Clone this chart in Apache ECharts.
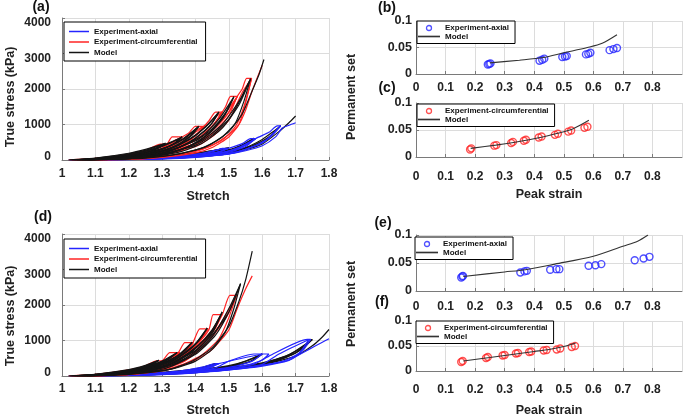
<!DOCTYPE html>
<html><head><meta charset="utf-8">
<script src="https://cdn.jsdelivr.net/npm/echarts@6/dist/echarts.min.js"></script>
<style>html,body{margin:0;padding:0;background:#fff}#c{width:685px;height:418px}</style>
</head><body><div id="c"></div>
<script>
// ---------- axis ranges [min, max, interval] ----------
const stretchRange = [1, 1.8, 0.1];
const stressRange = [0, 4000, 1000];
const strainRange = [0, 0.9, 0.1];
const setRange = [0, 0.1, 0.05];

// ---------- panel (a): stress-stretch loops [stretch, kPa] ----------
const circExpA = [
  [[1.02,0],[1.1,45],[1.2,160],[1.25,270],[1.295,450],[1.315,450],[1.3,330],[1.25,180],[1.2,80],[1.1,15],[1.03,0]],
  [[1.03,0],[1.1,35],[1.2,130],[1.25,230],[1.3,380],[1.315,450],[1.33,650],[1.36,650],[1.345,500],[1.3,280],[1.25,150],[1.2,70],[1.1,12],[1.04,0]],
  [[1.04,0],[1.1,28],[1.2,105],[1.3,300],[1.36,650],[1.38,760],[1.40,950],[1.425,950],[1.41,760],[1.37,480],[1.3,220],[1.25,120],[1.2,55],[1.1,8],[1.05,0]],
  [[1.05,0],[1.2,85],[1.3,240],[1.35,450],[1.4,780],[1.425,950],[1.44,1100],[1.46,1350],[1.48,1350],[1.46,1060],[1.42,700],[1.37,420],[1.3,180],[1.2,45],[1.06,0]],
  [[1.06,0],[1.2,70],[1.3,190],[1.4,560],[1.45,950],[1.48,1350],[1.49,1500],[1.505,1790],[1.525,1790],[1.5,1350],[1.46,920],[1.4,480],[1.3,140],[1.2,35],[1.07,0]],
  [[1.07,0],[1.2,55],[1.3,150],[1.4,430],[1.45,740],[1.5,1250],[1.525,1790],[1.54,2000],[1.553,2300],[1.568,2300],[1.55,1600],[1.53,1000],[1.5,650],[1.45,350],[1.4,200],[1.3,70],[1.2,15],[1.08,0]],
  [[1.08,0],[1.2,35],[1.3,95],[1.4,260],[1.45,420],[1.5,720],[1.53,1000],[1.55,1400],[1.568,1900],[1.58,2200],[1.60,2670]]
];
const circExpA2 = [
  [[1.03,0],[1.1,35],[1.2,130],[1.25,230],[1.3,380],[1.315,450],[1.3,310],[1.25,160],[1.2,70],[1.1,12],[1.035,0]],
  [[1.04,0],[1.1,28],[1.2,110],[1.25,200],[1.3,330],[1.34,560],[1.36,650],[1.34,460],[1.3,250],[1.25,130],[1.2,60],[1.1,10],[1.045,0]],
  [[1.05,0],[1.2,90],[1.3,260],[1.35,500],[1.39,780],[1.425,950],[1.4,700],[1.36,430],[1.3,200],[1.2,45],[1.055,0]],
  [[1.06,0],[1.2,75],[1.3,210],[1.35,390],[1.4,690],[1.45,1130],[1.48,1350],[1.455,1000],[1.41,620],[1.35,330],[1.3,160],[1.2,38],[1.065,0]],
  [[1.07,0],[1.2,60],[1.3,170],[1.4,480],[1.45,830],[1.5,1450],[1.525,1790],[1.495,1280],[1.45,820],[1.4,430],[1.3,125],[1.2,30],[1.075,0]],
  [[1.08,0],[1.2,48],[1.3,130],[1.4,380],[1.45,660],[1.5,1120],[1.54,1900],[1.568,2300],[1.545,1500],[1.52,950],[1.48,560],[1.42,300],[1.35,150],[1.25,40],[1.085,0]]
];
const circModelA = [
  [[1.02,0],[1.1,55],[1.2,190],[1.25,300],[1.31,470],[1.29,340],[1.25,210],[1.2,110],[1.1,25],[1.03,0]],
  [[1.03,0],[1.1,40],[1.2,150],[1.25,250],[1.3,400],[1.33,520],[1.36,650],[1.34,480],[1.3,300],[1.25,170],[1.2,85],[1.1,18],[1.04,0]],
  [[1.04,0],[1.1,30],[1.2,120],[1.3,320],[1.35,530],[1.38,720],[1.41,950],[1.39,700],[1.35,420],[1.3,240],[1.25,130],[1.2,65],[1.1,12],[1.05,0]],
  [[1.05,0],[1.1,25],[1.2,95],[1.3,250],[1.35,420],[1.4,690],[1.44,1030],[1.47,1350],[1.45,1040],[1.4,620],[1.35,350],[1.3,190],[1.2,50],[1.1,10],[1.06,0]],
  [[1.06,0],[1.2,75],[1.3,200],[1.4,540],[1.45,880],[1.49,1330],[1.515,1780],[1.49,1300],[1.45,820],[1.4,470],[1.35,270],[1.3,150],[1.2,40],[1.07,0]],
  [[1.07,0],[1.2,60],[1.3,160],[1.4,420],[1.45,700],[1.5,1150],[1.535,1700],[1.565,2290],[1.545,1650],[1.52,1050],[1.48,650],[1.43,370],[1.35,170],[1.25,50],[1.08,0]],
  [[1.08,0],[1.2,40],[1.3,105],[1.4,280],[1.45,470],[1.5,800],[1.54,1300],[1.57,1950],[1.59,2400],[1.605,2830]]
];
const circModelA2 = [
  [[1.025,0],[1.1,48],[1.2,170],[1.26,300],[1.31,470],[1.28,300],[1.22,150],[1.15,50],[1.035,0]],
  [[1.035,0],[1.1,36],[1.2,140],[1.28,320],[1.32,460],[1.36,650],[1.33,430],[1.28,240],[1.22,110],[1.12,25],[1.045,0]],
  [[1.045,0],[1.15,60],[1.25,190],[1.32,380],[1.37,620],[1.41,950],[1.38,640],[1.33,360],[1.27,170],[1.18,50],[1.055,0]],
  [[1.055,0],[1.15,45],[1.25,160],[1.32,320],[1.38,580],[1.43,930],[1.47,1350],[1.44,930],[1.39,540],[1.33,270],[1.25,110],[1.15,25],[1.065,0]],
  [[1.065,0],[1.15,38],[1.25,130],[1.35,360],[1.42,680],[1.47,1150],[1.515,1780],[1.48,1150],[1.43,680],[1.37,340],[1.3,140],[1.2,35],[1.075,0]],
  [[1.075,0],[1.15,30],[1.25,100],[1.35,290],[1.42,560],[1.48,1000],[1.53,1650],[1.565,2290],[1.53,1550],[1.48,900],[1.42,470],[1.35,220],[1.25,70],[1.085,0]]
];
const axialExpA = [
  [[1.02,0],[1.1,15],[1.2,40],[1.3,80],[1.4,150],[1.45,230],[1.48,330],[1.50,330],[1.47,220],[1.4,110],[1.3,50],[1.2,20],[1.1,5],[1.03,0]],
  [[1.03,0],[1.2,30],[1.3,60],[1.4,120],[1.47,230],[1.50,330],[1.54,460],[1.565,600],[1.58,600],[1.55,420],[1.5,250],[1.4,100],[1.3,40],[1.2,15],[1.05,0]],
  [[1.05,0],[1.2,25],[1.3,50],[1.4,100],[1.5,220],[1.55,380],[1.58,600],[1.62,780],[1.645,960],[1.655,960],[1.63,700],[1.6,480],[1.55,300],[1.5,180],[1.4,80],[1.3,35],[1.2,10],[1.07,0]],
  [[1.07,0],[1.2,20],[1.3,45],[1.4,90],[1.5,170],[1.55,260],[1.6,400],[1.64,650],[1.66,900],[1.68,980],[1.70,1050]]
];
const axialExpA2 = [
  [[1.025,0],[1.15,25],[1.25,55],[1.35,110],[1.42,190],[1.46,280],[1.50,330],[1.46,200],[1.4,105],[1.3,45],[1.15,10],[1.035,0]],
  [[1.035,0],[1.2,25],[1.3,55],[1.4,110],[1.48,210],[1.53,360],[1.58,600],[1.54,380],[1.48,210],[1.4,95],[1.3,38],[1.2,12],[1.045,0]],
  [[1.055,0],[1.2,22],[1.3,45],[1.4,95],[1.5,190],[1.56,330],[1.61,560],[1.655,960],[1.62,620],[1.57,370],[1.5,170],[1.4,75],[1.3,32],[1.065,0]]
];
const axialModelA = [
  [[1.02,0],[1.1,20],[1.2,55],[1.3,110],[1.4,200],[1.45,260],[1.5,340],[1.47,250],[1.4,150],[1.3,70],[1.2,30],[1.1,8],[1.03,0]],
  [[1.03,0],[1.2,40],[1.3,85],[1.4,160],[1.5,290],[1.54,430],[1.575,610],[1.55,450],[1.5,280],[1.4,130],[1.3,60],[1.2,20],[1.05,0]],
  [[1.05,0],[1.2,30],[1.3,65],[1.4,130],[1.5,240],[1.55,350],[1.6,580],[1.63,780],[1.655,960],[1.63,720],[1.6,500],[1.55,300],[1.5,190],[1.4,100],[1.3,45],[1.2,15],[1.07,0]],
  [[1.07,0],[1.2,25],[1.3,55],[1.4,110],[1.5,200],[1.55,290],[1.6,450],[1.65,800],[1.68,1050],[1.70,1240]]
];
const axialModelA2 = [
  [[1.025,0],[1.2,45],[1.3,95],[1.4,180],[1.46,280],[1.5,340],[1.46,220],[1.38,120],[1.28,55],[1.15,15],[1.035,0]],
  [[1.04,0],[1.2,35],[1.3,75],[1.4,145],[1.5,270],[1.55,430],[1.575,610],[1.54,400],[1.48,230],[1.38,110],[1.28,48],[1.15,12],[1.05,0]],
  [[1.06,0],[1.2,28],[1.3,60],[1.4,120],[1.5,220],[1.57,400],[1.62,640],[1.655,960],[1.62,650],[1.57,400],[1.5,180],[1.4,90],[1.3,40],[1.07,0]]
];

// ---------- panel (d) ----------
const circExpD = [
  [[1.02,0],[1.1,45],[1.2,170],[1.25,290],[1.283,430],[1.313,430],[1.29,300],[1.25,170],[1.2,80],[1.1,15],[1.03,0]],
  [[1.03,0],[1.1,35],[1.2,140],[1.26,280],[1.3,420],[1.323,660],[1.353,660],[1.33,480],[1.29,280],[1.25,160],[1.2,75],[1.1,12],[1.04,0]],
  [[1.04,0],[1.1,28],[1.2,115],[1.28,300],[1.33,560],[1.35,680],[1.368,940],[1.393,940],[1.37,700],[1.33,450],[1.28,250],[1.2,70],[1.1,10],[1.05,0]],
  [[1.05,0],[1.2,95],[1.3,290],[1.35,560],[1.39,900],[1.413,1330],[1.438,1330],[1.41,1000],[1.37,640],[1.3,300],[1.2,60],[1.06,0]],
  [[1.06,0],[1.2,80],[1.3,240],[1.35,450],[1.4,850],[1.44,1300],[1.453,1730],[1.478,1730],[1.45,1300],[1.41,880],[1.35,430],[1.3,220],[1.2,50],[1.07,0]],
  [[1.07,0],[1.2,65],[1.3,200],[1.35,380],[1.4,700],[1.45,1250],[1.48,1720],[1.503,2270],[1.523,2270],[1.5,1650],[1.47,1050],[1.42,600],[1.36,320],[1.3,160],[1.2,40],[1.08,0]],
  [[1.08,0],[1.2,45],[1.3,140],[1.35,260],[1.4,450],[1.45,750],[1.5,1300],[1.525,1900],[1.55,2450],[1.57,2820]]
];
const circExpD2 = [
  [[1.03,0],[1.1,38],[1.2,145],[1.26,280],[1.3,380],[1.313,430],[1.29,280],[1.24,150],[1.18,60],[1.1,12],[1.035,0]],
  [[1.04,0],[1.1,30],[1.2,120],[1.27,270],[1.32,470],[1.353,660],[1.33,450],[1.28,250],[1.22,110],[1.12,20],[1.045,0]],
  [[1.05,0],[1.2,100],[1.28,260],[1.34,520],[1.37,720],[1.393,940],[1.37,660],[1.32,400],[1.26,190],[1.16,40],[1.055,0]],
  [[1.06,0],[1.2,85],[1.3,250],[1.36,540],[1.4,880],[1.438,1330],[1.41,950],[1.36,560],[1.3,270],[1.2,55],[1.065,0]],
  [[1.07,0],[1.2,70],[1.3,210],[1.37,480],[1.42,900],[1.46,1350],[1.478,1730],[1.45,1250],[1.4,780],[1.34,390],[1.27,160],[1.17,30],[1.075,0]],
  [[1.08,0],[1.2,58],[1.3,180],[1.37,430],[1.43,900],[1.48,1550],[1.523,2270],[1.495,1700],[1.45,1100],[1.39,580],[1.32,240],[1.22,60],[1.085,0]]
];
const circModelD = [
  [[1.02,0],[1.1,50],[1.2,180],[1.25,300],[1.29,440],[1.27,330],[1.22,190],[1.15,70],[1.03,0]],
  [[1.03,0],[1.1,40],[1.2,150],[1.25,260],[1.3,420],[1.345,660],[1.32,480],[1.27,280],[1.2,110],[1.1,20],[1.04,0]],
  [[1.04,0],[1.1,32],[1.2,125],[1.3,340],[1.35,600],[1.39,950],[1.365,700],[1.32,440],[1.25,200],[1.15,50],[1.05,0]],
  [[1.05,0],[1.2,100],[1.3,280],[1.35,520],[1.4,900],[1.435,1350],[1.41,1000],[1.36,600],[1.3,320],[1.2,90],[1.06,0]],
  [[1.06,0],[1.2,80],[1.3,230],[1.35,440],[1.4,780],[1.45,1300],[1.48,1800],[1.455,1330],[1.41,880],[1.35,470],[1.3,250],[1.2,70],[1.07,0]],
  [[1.07,0],[1.2,65],[1.3,190],[1.35,370],[1.4,650],[1.45,1100],[1.5,1900],[1.535,2600],[1.515,1900],[1.49,1250],[1.45,750],[1.4,420],[1.33,200],[1.2,50],[1.08,0]],
  [[1.08,0],[1.2,48],[1.3,140],[1.35,270],[1.4,470],[1.45,800],[1.5,1400],[1.53,2100],[1.55,2700],[1.57,3520]]
];
const circModelD2 = [
  [[1.025,0],[1.1,45],[1.2,165],[1.25,280],[1.29,440],[1.26,290],[1.2,150],[1.12,40],[1.035,0]],
  [[1.035,0],[1.15,80],[1.23,200],[1.29,370],[1.32,490],[1.345,660],[1.31,420],[1.25,210],[1.17,70],[1.045,0]],
  [[1.045,0],[1.15,65],[1.25,210],[1.32,430],[1.36,650],[1.39,950],[1.355,620],[1.3,340],[1.22,130],[1.12,25],[1.055,0]],
  [[1.055,0],[1.15,55],[1.25,180],[1.33,420],[1.39,800],[1.435,1350],[1.40,900],[1.34,490],[1.27,220],[1.17,50],[1.065,0]],
  [[1.065,0],[1.15,45],[1.25,150],[1.33,360],[1.4,720],[1.45,1200],[1.48,1800],[1.445,1200],[1.39,700],[1.32,330],[1.24,120],[1.14,25],[1.075,0]],
  [[1.075,0],[1.15,38],[1.25,125],[1.33,310],[1.4,610],[1.46,1150],[1.5,1800],[1.535,2600],[1.5,1800],[1.45,1150],[1.39,620],[1.32,280],[1.24,100],[1.085,0]]
];
const axialExpD = [
  [[1.02,0],[1.15,30],[1.25,70],[1.35,140],[1.42,250],[1.46,350],[1.47,350],[1.44,230],[1.38,140],[1.3,80],[1.2,35],[1.1,8],[1.04,0]],
  [[1.04,0],[1.2,30],[1.3,70],[1.4,140],[1.46,230],[1.5,420],[1.575,620],[1.62,620],[1.6,450],[1.55,300],[1.5,220],[1.4,120],[1.3,55],[1.2,20],[1.06,0]],
  [[1.06,0],[1.2,25],[1.3,60],[1.4,120],[1.5,200],[1.58,350],[1.62,560],[1.735,1030],[1.745,1030],[1.72,700],[1.68,450],[1.6,300],[1.5,170],[1.4,90],[1.3,40],[1.2,12],[1.08,0]],
  [[1.08,0],[1.2,20],[1.3,50],[1.4,100],[1.5,170],[1.6,280],[1.68,440],[1.72,650],[1.76,850],[1.78,950],[1.80,1050]]
];
const axialExpD2 = [
  [[1.03,0],[1.15,25],[1.25,60],[1.35,120],[1.42,220],[1.47,350],[1.44,220],[1.37,120],[1.28,55],[1.15,12],[1.04,0]],
  [[1.05,0],[1.2,28],[1.3,60],[1.4,130],[1.47,350],[1.6,620],[1.57,420],[1.52,280],[1.45,180],[1.35,85],[1.25,35],[1.06,0]],
  [[1.07,0],[1.2,22],[1.3,55],[1.4,110],[1.5,190],[1.6,330],[1.65,620],[1.74,1030],[1.71,640],[1.66,410],[1.58,270],[1.48,160],[1.38,80],[1.28,35],[1.08,0]]
];
const axialModelD = [
  [[1.02,0],[1.2,45],[1.3,100],[1.4,200],[1.46,350],[1.43,240],[1.35,130],[1.25,55],[1.1,10],[1.03,0]],
  [[1.03,0],[1.2,40],[1.3,90],[1.4,170],[1.5,290],[1.55,420],[1.6,620],[1.57,430],[1.5,250],[1.4,140],[1.3,65],[1.2,25],[1.05,0]],
  [[1.05,0],[1.2,35],[1.3,75],[1.4,140],[1.5,230],[1.6,370],[1.67,560],[1.72,800],[1.75,1030],[1.72,760],[1.67,520],[1.6,330],[1.5,200],[1.4,110],[1.3,50],[1.2,18],[1.07,0]],
  [[1.07,0],[1.2,30],[1.3,65],[1.4,120],[1.5,200],[1.6,320],[1.7,560],[1.75,850],[1.78,1100],[1.80,1310]]
];
const axialModelD2 = [
  [[1.025,0],[1.2,40],[1.3,90],[1.4,180],[1.46,350],[1.42,210],[1.33,110],[1.22,40],[1.035,0]],
  [[1.04,0],[1.2,35],[1.3,80],[1.4,155],[1.5,270],[1.56,450],[1.6,620],[1.56,400],[1.48,220],[1.38,115],[1.27,50],[1.05,0]],
  [[1.06,0],[1.2,30],[1.3,68],[1.4,130],[1.5,215],[1.6,350],[1.68,600],[1.75,1030],[1.7,650],[1.64,420],[1.55,250],[1.45,140],[1.35,70],[1.22,22],[1.07,0]]
];

// ---------- permanent set panels [peak strain, permanent set] ----------
const axialSetB = [[0.243,0.018],[0.248,0.019],[0.252,0.020],[0.418,0.025],[0.427,0.027],[0.434,0.029],[0.495,0.032],[0.504,0.033],[0.51,0.034],[0.575,0.037],[0.583,0.038],[0.59,0.040],[0.655,0.045],[0.668,0.047],[0.68,0.049]];
const modelSetB = [[0.25,0.021],[0.35,0.026],[0.43,0.031],[0.5,0.04],[0.58,0.05],[0.63,0.058],[0.68,0.074]];
const circSetC = [[0.183,0.014],[0.187,0.016],[0.265,0.021],[0.272,0.022],[0.322,0.026],[0.328,0.028],[0.365,0.030],[0.372,0.032],[0.415,0.036],[0.425,0.038],[0.47,0.041],[0.48,0.043],[0.515,0.047],[0.525,0.049],[0.57,0.054],[0.58,0.056]];
const modelSetC = [[0.185,0.016],[0.27,0.022],[0.33,0.027],[0.42,0.036],[0.48,0.044],[0.53,0.052],[0.585,0.068]];
const axialSetE = [[0.153,0.024],[0.157,0.026],[0.159,0.027],[0.353,0.033],[0.367,0.035],[0.375,0.036],[0.454,0.038],[0.475,0.039],[0.485,0.039],[0.584,0.045],[0.607,0.046],[0.627,0.048],[0.74,0.055],[0.77,0.058],[0.79,0.061]];
const modelSetE = [[0.16,0.026],[0.3,0.034],[0.37,0.038],[0.47,0.048],[0.6,0.062],[0.7,0.08],[0.75,0.089],[0.785,0.1]];
const circSetF = [[0.153,0.018],[0.158,0.020],[0.237,0.026],[0.243,0.028],[0.293,0.031],[0.3,0.032],[0.338,0.035],[0.345,0.036],[0.383,0.038],[0.39,0.039],[0.432,0.041],[0.442,0.042],[0.476,0.043],[0.488,0.045],[0.527,0.048],[0.538,0.050]];
const modelSetF = [[0.16,0.02],[0.25,0.027],[0.3,0.031],[0.35,0.035],[0.4,0.039],[0.45,0.043],[0.5,0.049],[0.54,0.056]];

// ---------- styling ----------
const BLUE = '#2424ff', RED = '#ff2424', BLACK = '#141414';
const FONT = 'Liberation Sans';
const AXC = '#7a7a7a', GRIDC = '#dcdcdc';
const LW = 1.2;

const grids = [
  {left:62, top:18, width:267, height:142},   // a
  {left:416, top:21, width:266, height:53},   // b
  {left:416, top:103, width:266, height:54},  // c
  {left:62, top:234, width:267, height:143},  // d
  {left:416, top:235, width:266, height:56},  // e
  {left:416, top:321, width:266, height:52}   // f
];

function lbl(size, margin, extra) {
  return Object.assign({fontFamily:FONT, fontWeight:'bold', fontSize:size, color:'#222', margin:margin}, extra || {});
}
function nameStyle(padding) {
  return {fontFamily:FONT, fontWeight:'bold', fontSize:12.5, color:'#222', padding:padding || 0};
}
function baseAxis(idx, range, extra) {
  return Object.assign({
    type:'value', gridIndex:idx, min:range[0], max:range[1], interval:range[2],
    axisLine:{show:true, onZero:false, lineStyle:{color:AXC, width:1}},
    axisTick:{show:true, inside:true, length:3, lineStyle:{color:AXC}},
    splitLine:{show:true, lineStyle:{color:GRIDC, width:1}},
    axisLabel:lbl(12, 8),
    nameTextStyle:nameStyle()
  }, extra || {});
}
const plain = function (v) { return String(Math.round(v * 1000) / 1000); };
// stress tick labels sit slightly off their grid lines in the original
const stressFmt = function (v) {
  if (v >= 3000) return '{lo|' + v + '}';
  if (v === 0) return '{hi|0}';
  return String(v);
};
const stressRich = {
  lo:{fontFamily:FONT, fontWeight:'bold', fontSize:12, color:'#222', padding:[10,0,0,0]},
  hi:{fontFamily:FONT, fontWeight:'bold', fontSize:12, color:'#222', padding:[0,0,7,0]}
};

const xAxes = [
  baseAxis(0, stretchRange, {name:'Stretch', nameLocation:'middle', nameGap:30, nameTextStyle:nameStyle([0,0,0,25]), axisLabel:lbl(12, 8, {formatter:plain})}),
  baseAxis(1, strainRange, {axisLabel:lbl(12, 8, {showMaxLabel:false, formatter:plain})}),
  baseAxis(2, strainRange, {name:'Peak strain', nameLocation:'middle', nameGap:31, axisLabel:lbl(12, 14, {showMaxLabel:false, formatter:plain})}),
  baseAxis(3, stretchRange, {name:'Stretch', nameLocation:'middle', nameGap:28, nameTextStyle:nameStyle([0,0,0,25]), axisLabel:lbl(12, 7, {formatter:plain})}),
  baseAxis(4, strainRange, {axisLabel:lbl(12, 10, {showMaxLabel:false, formatter:plain})}),
  baseAxis(5, strainRange, {name:'Peak strain', nameLocation:'middle', nameGap:33, axisLabel:lbl(12, 13, {showMaxLabel:false, formatter:plain})})
];
const yAxes = [
  baseAxis(0, stressRange, {name:'True stress (kPa)', nameLocation:'middle', nameGap:45, nameTextStyle:nameStyle([0,16,0,0]), axisLabel:lbl(12, 11, {formatter:stressFmt, rich:stressRich})}),
  baseAxis(1, setRange, {axisLabel:lbl(12.5, 4, {formatter:plain})}),
  baseAxis(2, setRange, {axisLabel:lbl(12.5, 4, {formatter:plain})}),
  baseAxis(3, stressRange, {name:'True stress (kPa)', nameLocation:'middle', nameGap:45, nameTextStyle:nameStyle([0,22,0,0]), axisLabel:lbl(12, 11, {formatter:stressFmt, rich:stressRich})}),
  baseAxis(4, setRange, {axisLabel:lbl(12.5, 4, {formatter:plain})}),
  baseAxis(5, setRange, {axisLabel:lbl(12.5, 4, {formatter:plain})})
];

const series = [];
function addLoops(loops, name, color, gi) {
  loops.forEach(function (loop) {
    series.push({type:'line', name:name, xAxisIndex:gi, yAxisIndex:gi, data:loop,
      symbol:'none', smooth:0.2, silent:true, lineStyle:{color:color, width:LW}, itemStyle:{color:color}});
  });
}
function addScatter(pts, name, color, gi) {
  series.push({type:'scatter', name:name, xAxisIndex:gi, yAxisIndex:gi, data:pts, symbol:'circle', symbolSize:7,
    silent:true, itemStyle:{color:'rgba(255,255,255,0)', borderColor:color, borderWidth:1.4}});
}
function addModel(pts, name, gi) {
  series.push({type:'line', name:name, xAxisIndex:gi, yAxisIndex:gi, data:pts, symbol:'none', smooth:0.3,
    silent:true, lineStyle:{color:'#333', width:1.1}, itemStyle:{color:'#333'}});
}

addLoops(axialModelA, 'a|Model', BLACK, 0);
addLoops(axialModelA2, 'a|Model', BLACK, 0);
addLoops(axialExpA, 'a|Experiment-axial', BLUE, 0);
addLoops(axialExpA2, 'a|Experiment-axial', BLUE, 0);
addLoops(circExpA, 'a|Experiment-circumferential', RED, 0);
addLoops(circExpA2, 'a|Experiment-circumferential', RED, 0);
addLoops(circModelA, 'a|Model', BLACK, 0);
addLoops(circModelA2, 'a|Model', BLACK, 0);
addScatter(axialSetB, 'b|Experiment-axial', BLUE, 1);
addModel(modelSetB, 'b|Model', 1);
addScatter(circSetC, 'c|Experiment-circumferential', RED, 2);
addModel(modelSetC, 'c|Model', 2);
addLoops(axialModelD, 'd|Model', BLACK, 3);
addLoops(axialModelD2, 'd|Model', BLACK, 3);
addLoops(axialExpD, 'd|Experiment-axial', BLUE, 3);
addLoops(axialExpD2, 'd|Experiment-axial', BLUE, 3);
addLoops(circExpD, 'd|Experiment-circumferential', RED, 3);
addLoops(circExpD2, 'd|Experiment-circumferential', RED, 3);
addLoops(circModelD, 'd|Model', BLACK, 3);
addLoops(circModelD2, 'd|Model', BLACK, 3);
addScatter(axialSetE, 'e|Experiment-axial', BLUE, 4);
addModel(modelSetE, 'e|Model', 4);
addScatter(circSetF, 'f|Experiment-circumferential', RED, 5);
addModel(modelSetF, 'f|Model', 5);

const LINE_ICON = 'path://M0,0H40V3H0Z';
function lineItem(name, color) { return {name:name, icon:LINE_ICON, itemStyle:{color:color, borderWidth:0}}; }
function circItem(name, color) { return {name:name, icon:'circle', itemStyle:{color:'#fff', borderColor:color, borderWidth:1.3}}; }
function legendBox(left, top, data, big) {
  return {
    left:left, top:top, orient:'vertical', data:data,
    backgroundColor:'#fff', borderColor:'#000', borderWidth:1,
    padding: big ? [5,8,4,5] : [3,6,3,1],
    itemGap: big ? 1.5 : 0.5,
    itemWidth: big ? 20 : 22, itemHeight: big ? 9 : 5,
    selectedMode:false,
    formatter: function (n) { return n.split('|')[1]; },
    textStyle:{fontFamily:FONT, fontWeight:'bold', fontSize:8, color:'#111', lineHeight: big ? 9 : 8}
  };
}
const legends = [
  legendBox(64, 22, [lineItem('a|Experiment-axial', BLUE), lineItem('a|Experiment-circumferential', RED), lineItem('a|Model', BLACK)], true),
  legendBox(417, 21, [circItem('b|Experiment-axial', BLUE), lineItem('b|Model', '#333')], false),
  legendBox(417, 104, [circItem('c|Experiment-circumferential', RED), lineItem('c|Model', '#333')], false),
  legendBox(64, 239, [lineItem('d|Experiment-axial', BLUE), lineItem('d|Experiment-circumferential', RED), lineItem('d|Model', BLACK)], true),
  legendBox(415, 237, [circItem('e|Experiment-axial', BLUE), lineItem('e|Model', '#333')], false),
  legendBox(416, 321, [circItem('f|Experiment-circumferential', RED), lineItem('f|Model', '#333')], false)
];

function label(x, y, t) {
  return {type:'text', x:x, y:y, style:{text:t, font:'bold 14px "' + FONT + '"', fill:'#111', align:'center', verticalAlign:'middle'}};
}
const graphics = [
  label(41, 7, '(a)'), label(387, 8, '(b)'), label(387, 88, '(c)'),
  label(43, 217, '(d)'), label(383, 223, '(e)'), label(382, 302, '(f)'),
  {type:'text', x:352, y:97, rotation:Math.PI/2, style:{text:'Permanent set', font:'bold 12.5px "' + FONT + '"', fill:'#222', align:'center', verticalAlign:'middle'}},
  {type:'text', x:352, y:304, rotation:Math.PI/2, style:{text:'Permanent set', font:'bold 12.5px "' + FONT + '"', fill:'#222', align:'center', verticalAlign:'middle'}}
];

const chart = echarts.init(document.getElementById('c'), null, {renderer:'canvas'});
chart.setOption({
  animation:false,
  backgroundColor:'#fff',
  grid:grids, xAxis:xAxes, yAxis:yAxes,
  legend:legends, series:series, graphic:graphics
});
</script></body></html>
